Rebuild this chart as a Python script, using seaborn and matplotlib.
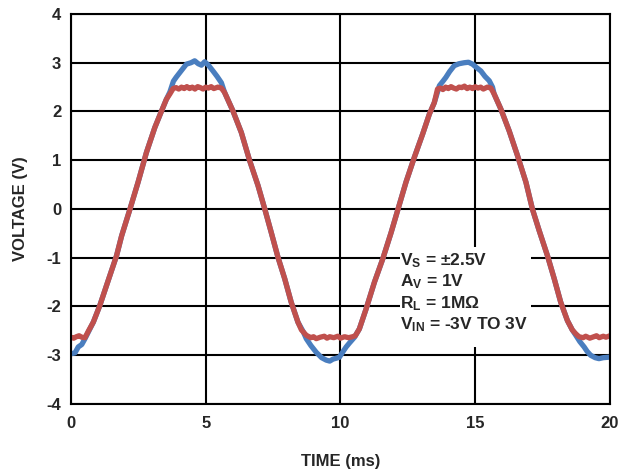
import numpy as np
import pandas as pd
import matplotlib
matplotlib.use('Agg')
import matplotlib.pyplot as plt
import seaborn as sns
from matplotlib.patches import Rectangle

# values (time in ms, volts)
vin_time = [0.0, 0.15, 0.27, 0.4, 0.52, 0.83, 1.07, 1.44, 1.69, 1.88, 2.19, 2.49, 2.80, 3.11,
            3.36, 3.54, 3.67, 3.80, 3.90, 4.04, 4.28, 4.45, 4.59, 4.72, 4.84, 4.96, 5.10, 5.27,
            5.42, 5.58, 5.70, 6.01, 6.32, 6.63, 6.94, 7.19, 7.43, 7.68, 7.93, 8.17, 8.42, 8.62,
            8.73, 8.90, 9.10, 9.30, 9.47, 9.60, 9.72, 9.85, 9.96, 10.10, 10.21, 10.33, 10.52,
            10.70, 10.95, 11.26, 11.57, 11.88, 12.12, 12.43, 12.74, 13.05, 13.30, 13.48, 13.60,
            13.67, 13.80, 13.91, 14.05, 14.22, 14.40, 14.59, 14.75, 14.90, 15.05, 15.21, 15.36,
            15.52, 15.64, 15.70, 15.95, 16.26, 16.57, 16.88, 17.12, 17.37, 17.68, 17.93, 18.17,
            18.42, 18.60, 18.73, 18.88, 19.04, 19.15, 19.28, 19.45, 19.59, 19.75, 19.96]
vin_volt = [-2.97, -2.95, -2.83, -2.78, -2.66, -2.32, -1.98, -1.37, -0.96, -0.55, 0.0, 0.55, 1.16, 1.67,
            2.01, 2.25, 2.40, 2.62, 2.70, 2.80, 2.97, 3.00, 3.04, 2.98, 2.95, 3.02, 2.95, 2.83,
            2.72, 2.59, 2.39, 2.01, 1.57, 0.99, 0.48, 0.0, -0.48, -0.99, -1.43, -1.91, -2.32, -2.52,
            -2.66, -2.80, -2.94, -3.05, -3.10, -3.12, -3.08, -3.06, -3.04, -2.92, -2.83, -2.75, -2.63,
            -2.46, -2.05, -1.50, -1.02, -0.48, -0.03, 0.55, 1.06, 1.54, 1.95, 2.18, 2.40,
            2.53, 2.62, 2.70, 2.82, 2.94, 2.98, 3.00, 3.01, 2.97, 2.90, 2.83, 2.72,
            2.63, 2.50, 2.36, 2.05, 1.60, 1.09, 0.55, 0.0, -0.44, -0.96, -1.43, -1.91,
            -2.29, -2.48, -2.59, -2.72, -2.83, -2.92, -3.00, -3.05, -3.07, -3.05, -3.04]

vout_time = [0.0, 0.1, 0.2, 0.3, 0.4, 0.52, 0.65, 0.83, 1.07, 1.44, 1.69, 1.88, 2.19, 2.49, 2.80,
             3.11, 3.36, 3.54, 3.67, 3.79, 3.9, 4.0, 4.1, 4.2, 4.3, 4.4, 4.5, 4.6, 4.7, 4.8, 4.9,
             5.0, 5.1, 5.2, 5.3, 5.45, 5.58, 5.70, 6.01, 6.32, 6.63, 6.94, 7.19, 7.43, 7.68, 7.93,
             8.17, 8.42, 8.55, 8.73, 8.9, 9.0, 9.1, 9.25, 9.4, 9.5, 9.6, 9.75, 9.9, 10.0, 10.15,
             10.3, 10.45, 10.55, 10.70, 10.95, 11.26, 11.57, 11.88, 12.12, 12.43, 12.74, 13.05,
             13.30, 13.48, 13.60, 13.7, 13.8, 13.9, 14.0, 14.1, 14.2, 14.3, 14.4, 14.5, 14.6, 14.7,
             14.8, 14.9, 15.0, 15.1, 15.2, 15.3, 15.45, 15.58, 15.70, 15.95, 16.26, 16.57, 16.88,
             17.12, 17.37, 17.68, 17.93, 18.17, 18.42, 18.6, 18.73, 18.85, 19.0, 19.1, 19.25, 19.4,
             19.5, 19.6, 19.75, 19.85, 20.0]
vout_volt = [-2.63, -2.65, -2.62, -2.60, -2.63, -2.64, -2.50, -2.32, -1.98, -1.37, -0.96, -0.55, 0.0, 0.55, 1.16,
             1.67, 2.01, 2.25, 2.36, 2.47, 2.49, 2.46, 2.50, 2.47, 2.51, 2.47, 2.50, 2.46, 2.51, 2.49, 2.46,
             2.50, 2.48, 2.51, 2.47, 2.50, 2.48, 2.39, 2.01, 1.57, 0.99, 0.48, 0.0, -0.48, -0.99, -1.43,
             -1.91, -2.32, -2.48, -2.59, -2.64, -2.62, -2.66, -2.63, -2.61, -2.65, -2.62, -2.64, -2.61, -2.65, -2.62,
             -2.64, -2.62, -2.60, -2.46, -2.05, -1.50, -1.02, -0.48, -0.03, 0.55, 1.06, 1.54,
             1.95, 2.18, 2.46, 2.48, 2.45, 2.50, 2.47, 2.51, 2.48, 2.46, 2.50, 2.49, 2.52, 2.47,
             2.50, 2.47, 2.51, 2.48, 2.50, 2.46, 2.50, 2.48, 2.36, 2.05, 1.60, 1.09, 0.55,
             0.0, -0.44, -0.96, -1.43, -1.91, -2.29, -2.48, -2.56, -2.62, -2.64, -2.61, -2.65, -2.62,
             -2.60, -2.64, -2.61, -2.63, -2.60]

x_ticks = [0, 5, 10, 15, 20]
y_ticks = [-4, -3, -2, -1, 0, 1, 2, 3, 4]
note_lines = ['V$_\\mathrm{S}$ = ±2.5V', 'A$_\\mathrm{V}$ = 1V', 'R$_\\mathrm{L}$ = 1MΩ',
              'V$_\\mathrm{IN}$ = -3V TO 3V']

sns.set_style('white')
plt.rcParams['font.family'] = ['Liberation Sans', 'DejaVu Sans']
plt.rcParams['font.weight'] = 'bold'
plt.rcParams['mathtext.fontset'] = 'custom'
plt.rcParams['mathtext.rm'] = 'Liberation Sans:bold'
plt.rcParams['mathtext.default'] = 'rm'

fig = plt.figure(figsize=(6.21, 4.74), dpi=100)
ax = fig.add_axes([0.1143, 0.1477, 0.8680, 0.8228])

vin = pd.DataFrame({'t': vin_time, 'v': vin_volt})
vout = pd.DataFrame({'t': vout_time, 'v': vout_volt})
sns.lineplot(data=vin, x='t', y='v', ax=ax, color='#4a7ebf', linewidth=3.8, zorder=3)
sns.lineplot(data=vout, x='t', y='v', ax=ax, color='#c0504d', linewidth=3.8, zorder=4)

ax.set_xlim(0, 20)
ax.set_ylim(-4, 4)
ax.set_xticks(x_ticks)
ax.set_yticks(y_ticks)
ax.set_xticklabels([str(v) for v in x_ticks], fontsize=12, fontweight='bold')
ax.set_yticklabels([str(v) for v in y_ticks], fontsize=12, fontweight='bold')
ax.tick_params(length=0)
ax.tick_params(axis='x', pad=9)
ax.tick_params(axis='y', pad=7)
ax.grid(True, color='black', linewidth=1.5)
ax.set_axisbelow(True)
for s in ax.spines.values():
    s.set_color('black')
    s.set_linewidth(1.5)
    s.set_zorder(5)

ax.set_xlabel('TIME (ms)', fontsize=12, fontweight='bold', labelpad=16)
ax.set_ylabel('VOLTAGE (V)', fontsize=12, fontweight='bold', labelpad=13)

# white box behind the conditions text
ax.add_patch(Rectangle((12.2, -2.83), 4.85, 2.05, facecolor='white', edgecolor='none', zorder=2.5))
for i, line in enumerate(note_lines):
    ax.text(12.22, -1.15 - i * 0.44, line, fontsize=12.5, fontweight='bold', ha='left',
            va='baseline', zorder=6)

fig.savefig('out.png', dpi=100)
